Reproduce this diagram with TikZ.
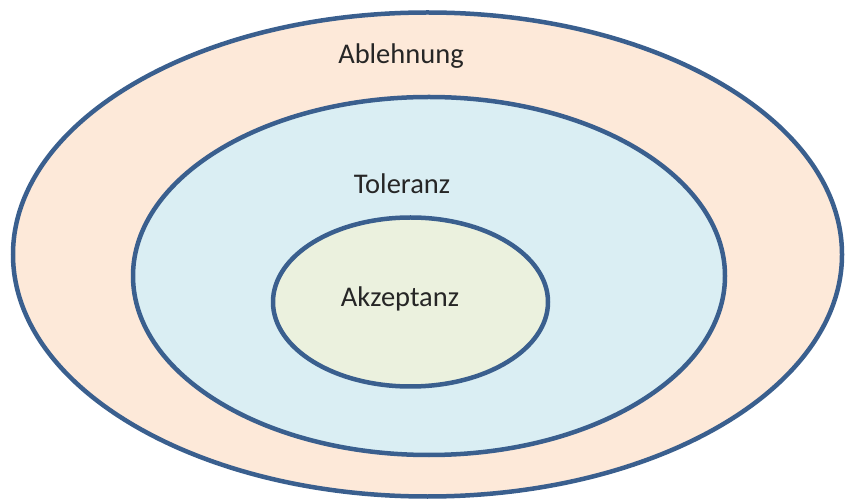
\documentclass[tikz,border=0pt]{standalone}
\usepackage{fontspec}
\setmainfont{Carlito}
\definecolor{ringline}{HTML}{3A5F8E}
\definecolor{outerfill}{HTML}{FDE9D9}
\definecolor{midfill}{HTML}{DAEEF3}
\definecolor{innerfill}{HTML}{EBF1DE}
\begin{document}
\begin{tikzpicture}[x=1pt,y=-1pt,
  ring/.style={draw=ringline,line width=4.5pt},
  lbl/.style={inner sep=0pt,font=\fontsize{28.5}{34}\selectfont,text=black!85}]
\useasboundingbox[fill=white] (0,0) rectangle (846,502);
\draw[ring,fill=outerfill] (427.5,254.5) ellipse [x radius=414.5, y radius=242];
\draw[ring,fill=midfill] (429,276) ellipse [x radius=296, y radius=179];
\draw[ring,fill=innerfill] (410.5,302) ellipse [x radius=137.5, y radius=84.5];
\node[lbl] (ablehnung) at (401,56) {Ablehnung};
\node[lbl] (toleranz) at (402,184) {Toleranz};
\node[lbl] (akzeptanz) at (400,299) {Akzeptanz};
\end{tikzpicture}
\end{document}
